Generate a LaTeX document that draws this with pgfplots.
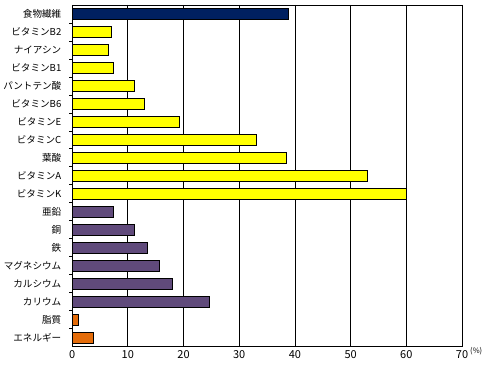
\documentclass[border=0pt]{standalone}
\usepackage{pgfplots}
\pgfplotsset{compat=1.18}
\usepackage{fontspec}
\setmainfont{Noto Sans CJK JP}
\definecolor{navy}{HTML}{002060}
\definecolor{ylw}{HTML}{FFFF00}
\definecolor{purp}{HTML}{604A7B}
\definecolor{orng}{HTML}{E46C0A}
\begin{document}
\begin{tikzpicture}
\path (-71.5pt,-23pt) rectangle (418.5pt,347pt);
\begin{axis}[
  at={(0,0)}, anchor=south west,
  scale only axis, width=390.5pt, height=342pt,
  xmin=0, xmax=70, ymin=-0.5, ymax=18.5, y dir=reverse,
  xtick={0,10,...,70}, major x tick style={draw=none},
  xmajorgrids, major grid style={black, line width=0.8pt},
  axis line style={black, line width=0.8pt},
  ytick={0,...,18}, ytick pos=left,
  yticklabels={食物繊維,ビタミンB2,ナイアシン,ビタミンB1,パントテン酸,ビタミンB6,ビタミンE,ビタミンC,葉酸,ビタミンA,ビタミンK,亜鉛,銅,鉄,マグネシウム,カルシウム,カリウム,脂質,エネルギー},
  major y tick style={draw=none},
  minor ytick={0.5,1.5,...,17.5},
  minor y tick style={black, line width=0.6pt},
  minor tick length=3pt, tick align=inside,
  yticklabel style={font=\fontsize{9.6}{11}\selectfont, xshift=-3pt},
  xticklabel style={font=\fontsize{11}{12}\selectfont},
  /pgf/number format/assume math mode=true,
  xlabel={(\%)},
  xlabel style={at={(rel axis cs:1,0)}, anchor=north west, font=\fontsize{7.5}{8}\selectfont, xshift=7pt, yshift=0pt, inner sep=1pt},
  xbar, bar width=11pt,
  every axis plot/.append style={draw=black, line width=0.8pt, bar shift=0pt},
]
\addplot[fill=navy, draw=black, bar shift=0pt] coordinates {(38.8,0)};
\addplot[fill=ylw, draw=black, bar shift=0pt] coordinates {(7.0,1) (6.6,2) (7.4,3) (11.1,4) (12.9,5) (19.2,6) (33.1,7) (38.4,8) (53.1,9) (60.0,10)};
\addplot[fill=purp, draw=black, bar shift=0pt] coordinates {(7.4,11) (11.1,12) (13.6,13) (15.6,14) (18.0,15) (24.7,16)};
\addplot[fill=orng, draw=black, bar shift=0pt] coordinates {(1.1,17) (3.8,18)};
\end{axis}
\end{tikzpicture}
\end{document}
